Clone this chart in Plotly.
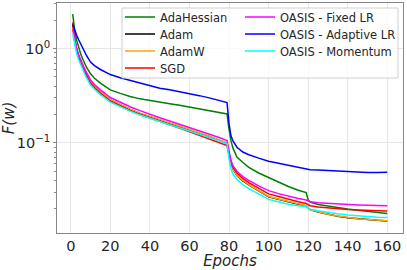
import plotly.graph_objects as go

epochs = [1, 2, 3, 4, 5, 6, 7, 8, 10, 12, 15, 20, 25, 30, 35, 40, 45, 50, 55, 60, 65, 70,
          75, 79, 80, 81, 82, 84, 87, 90, 95, 100, 105, 110, 115, 119, 120, 121, 125,
          130, 135, 140, 145, 150, 155, 160]

adahessian = [2.32, 1.55, 1.22, 1.02, 0.88, 0.78, 0.70, 0.63, 0.54, 0.485, 0.43,
              0.365, 0.335, 0.31, 0.293, 0.28,
              0.27, 0.26, 0.25, 0.24, 0.229, 0.219, 0.21, 0.203,
              0.14, 0.105, 0.088, 0.071, 0.062, 0.055, 0.048, 0.043, 0.038, 0.0345,
              0.0315, 0.0298, 0.025, 0.0236, 0.0222, 0.0213, 0.0205, 0.0199, 0.0193,
              0.0188, 0.0183, 0.0179]

adam = [1.8, 1.22, 0.98, 0.83, 0.72, 0.64, 0.575, 0.52, 0.44, 0.395, 0.345,
        0.285, 0.252, 0.226, 0.205, 0.188,
        0.174, 0.161, 0.149, 0.136, 0.126, 0.117, 0.107, 0.099,
        0.075, 0.061, 0.053, 0.045, 0.0395, 0.036, 0.031, 0.0268, 0.0252, 0.0236,
        0.0224, 0.0215, 0.0205, 0.0196, 0.0185, 0.0175, 0.0167, 0.0161, 0.0157,
        0.0153, 0.0151, 0.0149]

adamw = [1.7, 1.2, 0.97, 0.825, 0.72, 0.645, 0.585, 0.525, 0.445, 0.40, 0.348,
         0.288, 0.254, 0.228, 0.207, 0.19,
         0.176, 0.163, 0.151, 0.138, 0.128, 0.118, 0.108, 0.1,
         0.076, 0.061, 0.053, 0.0455, 0.04, 0.0362, 0.0312, 0.027, 0.0254, 0.0238,
         0.0226, 0.0216, 0.0206, 0.0197, 0.0186, 0.0175, 0.0168, 0.0162, 0.0157,
         0.0154, 0.0151, 0.015]

sgd = [1.9, 1.25, 0.98, 0.82, 0.71, 0.63, 0.57, 0.51, 0.43, 0.385, 0.335,
       0.277, 0.245, 0.22, 0.2, 0.183,
       0.169, 0.156, 0.144, 0.132, 0.122, 0.112, 0.102, 0.094,
       0.074, 0.062, 0.055, 0.048, 0.042, 0.038, 0.0328, 0.0288, 0.027, 0.0252,
       0.0238, 0.0228, 0.0222, 0.0216, 0.0209, 0.0204, 0.02, 0.0197, 0.0195,
       0.0193, 0.0191, 0.019]

oasis_fixed = [1.6, 1.2, 1.0, 0.86, 0.76, 0.68, 0.615, 0.555, 0.465, 0.415, 0.365,
               0.303, 0.27, 0.242, 0.22, 0.2,
               0.185, 0.171, 0.158, 0.145, 0.134, 0.124, 0.114, 0.106,
               0.08, 0.065, 0.057, 0.05, 0.044, 0.04, 0.035, 0.0312, 0.029, 0.0272,
               0.0258, 0.0248, 0.0243, 0.0238, 0.0232, 0.0228, 0.0225, 0.0222, 0.022,
               0.0218, 0.0216, 0.0216]

oasis_adaptive = [1.81, 1.55, 1.38, 1.24, 1.12, 1.01, 0.92, 0.84, 0.72, 0.66, 0.60,
                  0.53, 0.49, 0.46, 0.43, 0.40,
                  0.38, 0.365, 0.35, 0.333, 0.317, 0.300, 0.283, 0.268,
                  0.16, 0.118, 0.105, 0.09, 0.08, 0.075, 0.069, 0.064, 0.061, 0.058,
                  0.055, 0.053, 0.0525, 0.052, 0.0515, 0.0508, 0.050, 0.0495, 0.049,
                  0.0487, 0.0486, 0.049]

oasis_momentum = [1.45, 1.08, 0.88, 0.76, 0.67, 0.60, 0.54, 0.49, 0.41, 0.37, 0.325,
                  0.27, 0.24, 0.217, 0.198, 0.182,
                  0.168, 0.156, 0.145, 0.133, 0.123, 0.114, 0.105, 0.098,
                  0.068, 0.053, 0.047, 0.041, 0.036, 0.0328, 0.0288, 0.0252, 0.0238, 0.0224,
                  0.0216, 0.0211, 0.0205, 0.0198, 0.0191, 0.0183, 0.0177, 0.0172, 0.0168,
                  0.0165, 0.0163, 0.0162]

names = ["AdaHessian", "Adam", "AdamW", "SGD",
         "OASIS - Fixed LR", "OASIS - Adaptive LR", "OASIS - Momentum"]
values = [adahessian, adam, adamw, sgd, oasis_fixed, oasis_adaptive, oasis_momentum]
colors = ["#008000", "#000000", "#FFA500", "#FF0000", "#FF00FF", "#0000FF", "#00FFFF"]

W, H = 407, 270
ml, mr, mt, mb = 57, 4, 3, 37
pw, ph = W - ml - mr, H - mt - mb


def px2x(p):
    return (p - ml) / pw


def px2y(p):
    return 1 - (p - mt) / ph


font = "DejaVu Sans"
legfont = dict(family=font, size=11.5, color="#262626")

# legend slots: (left px, row-centre px)
col_left = [120, 240]
row_centre = [17, 34, 51, 68]

fig = go.Figure()
legends = {}
for i, (name, vals, color) in enumerate(zip(names, values, colors)):
    key = "legend" if i == 0 else f"legend{i + 1}"
    col = 0 if i < 4 else 1
    row = i if i < 4 else i - 4
    fig.add_trace(go.Scatter(x=epochs, y=vals, mode="lines", name=name, showlegend=True,
                             line=dict(color=color, width=1.5), legend=key))
    legends[key] = dict(x=px2x(col_left[col]), y=px2y(row_centre[row]),
                        xanchor="left", yanchor="middle",
                        bgcolor="rgba(0,0,0,0)", borderwidth=0, font=legfont)

fig.update_layout(
    width=W, height=H,
    showlegend=True,
    margin=dict(l=ml, r=mr, t=mt, b=mb, autoexpand=False),
    plot_bgcolor="white", paper_bgcolor="white",
    font=dict(family=font, color="#262626"),
    shapes=[dict(type="rect", xref="paper", yref="paper",
                 x0=px2x(122), x1=px2x(398), y0=px2y(78), y1=px2y(8),
                 fillcolor="rgba(255,255,255,0.8)", line=dict(color="#d0d0d0", width=1),
                 layer="above")],
    **legends,
)

fig.update_xaxes(
    range=[-6.95, 167.95], tickvals=[0, 20, 40, 60, 80, 100, 120, 140, 160],
    showgrid=True, gridcolor="#e6e6e6", gridwidth=1, zeroline=False,
    showline=True, linecolor="#888888", linewidth=1, mirror=True,
    ticks="",
    tickfont=dict(family=font, size=14.5, color="#262626"),
    automargin=False,
    title=dict(text="<i>Epochs</i>", font=dict(family=font, size=15, color="#262626"), standoff=2),
)

fig.update_yaxes(
    type="log", range=[-1.955, 0.483],
    tickvals=[0.1, 1], ticktext=["10<sup>−1</sup>", "10<sup>0</sup>"],
    showgrid=True, gridcolor="#e6e6e6", gridwidth=1, zeroline=False,
    showline=True, linecolor="#888888", linewidth=1, mirror=True,
    ticks="outside", ticklen=3, tickcolor="#888888",
    minor=dict(tickvals=[0.02, 0.03, 0.04, 0.05, 0.06, 0.07, 0.08, 0.09,
                         0.2, 0.3, 0.4, 0.5, 0.6, 0.7, 0.8, 0.9, 2, 3],
               ticks="outside", ticklen=2, tickcolor="#888888", showgrid=False),
    tickfont=dict(family=font, size=14.5, color="#262626"),
    automargin=False,
    title=dict(text="<i>F(w)</i>", font=dict(family=font, size=15, color="#262626"), standoff=6),
)

fig.write_html("out.html", config={"displayModeBar": False},
               post_script="document.body.style.margin='0px';")
